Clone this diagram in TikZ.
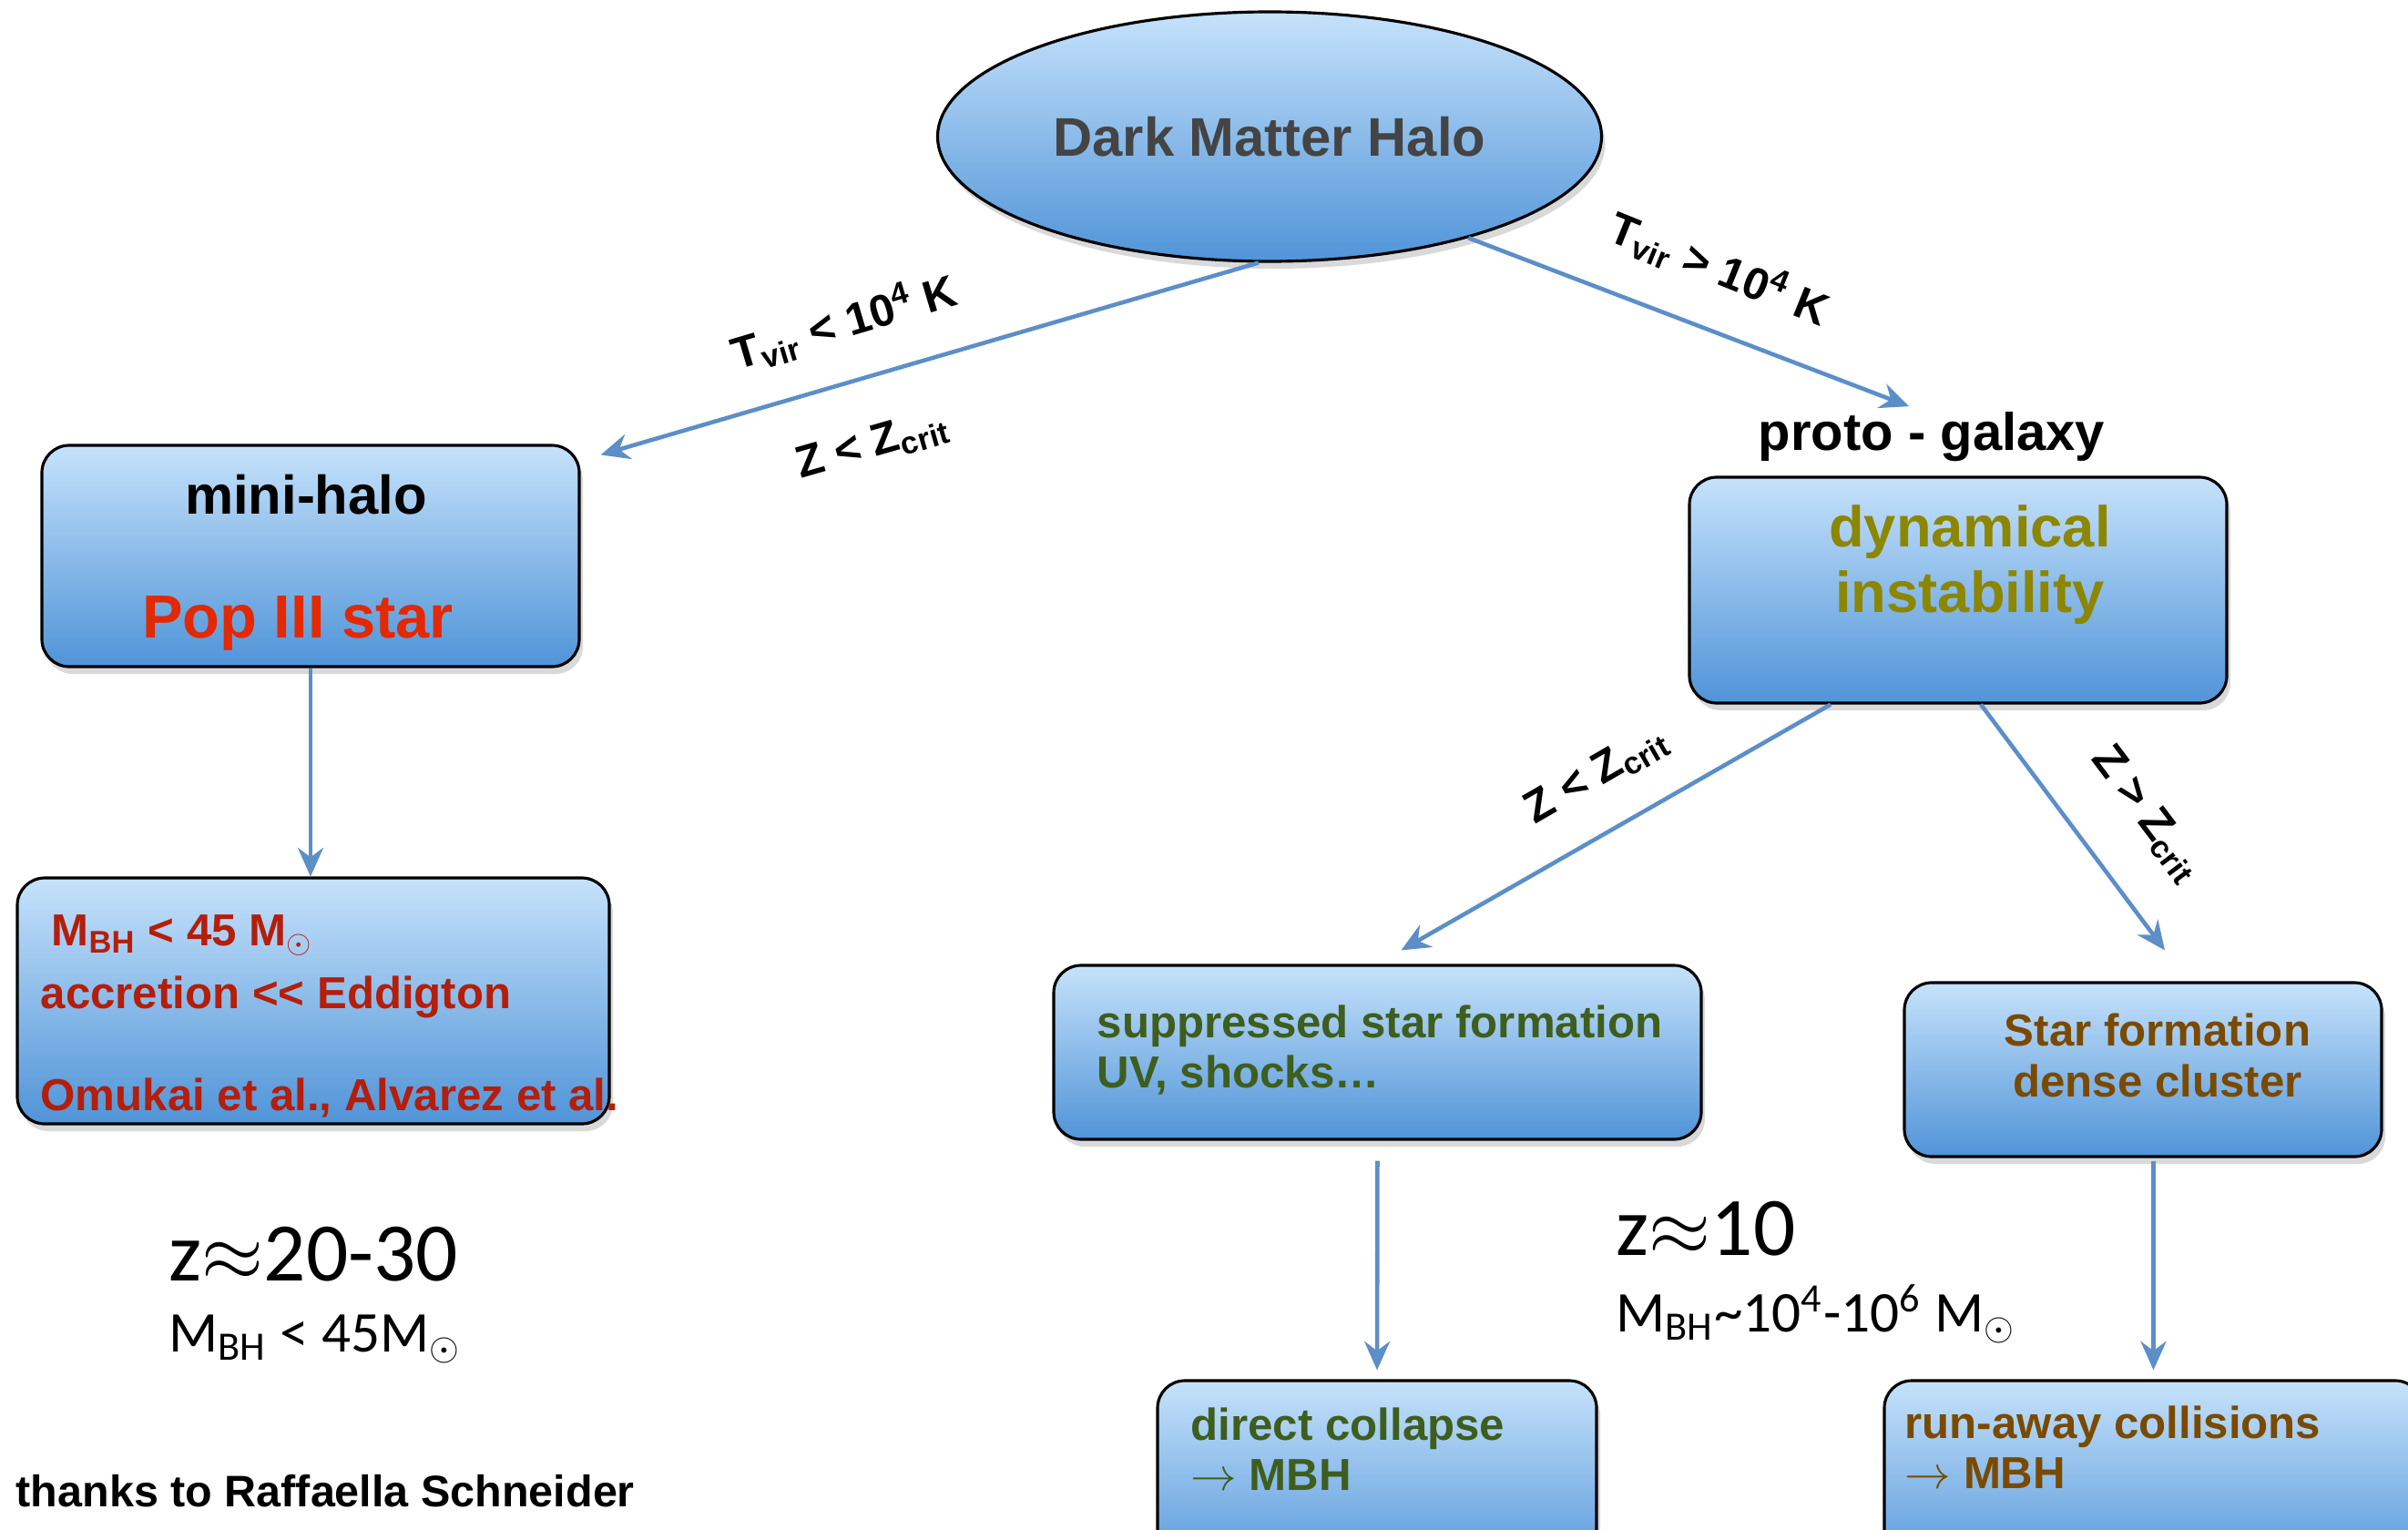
\documentclass[tikz,border=0pt]{standalone}
\usepackage{fontspec}
\setmainfont{Liberation Sans}
\newfontfamily\gillfont{Carlito}
\usepackage{tikz}
\usetikzlibrary{positioning,shapes.geometric,shadows,arrows.meta}
\definecolor{arrowblue}{RGB}{92,142,200}
\definecolor{boxtop}{RGB}{198,226,251}
\definecolor{boxbot}{RGB}{80,148,216}
\definecolor{popred}{RGB}{228,40,0}
\definecolor{bhred}{RGB}{180,30,10}
\definecolor{dynolive}{RGB}{140,134,0}
\definecolor{sfgreen}{RGB}{62,94,30}
\definecolor{sfbrown}{RGB}{122,74,0}
\definecolor{halogray}{RGB}{68,68,68}

\begin{document}
\begin{tikzpicture}[box/.style={draw,line width=0.9pt,rounded corners=0.3cm,
                        top color=boxtop,bottom color=boxbot,inner sep=0pt,
                        drop shadow={shadow xshift=0.04cm,shadow yshift=-0.08cm,opacity=0.3}},
                cloud/.style={ellipse,draw,line width=0.9pt,top color=boxtop,bottom color=boxbot,
                        inner sep=0pt,drop shadow={shadow xshift=0.04cm,shadow yshift=-0.08cm,opacity=0.3}},
                conn/.style={draw=arrowblue,line width=1.3pt,-{Stealth[length=9pt,width=8pt,inset=3pt]}},
                txt/.style={inner sep=0pt,font=\bfseries\fontsize{14}{15.8}\selectfont},
                cond/.style={inner sep=0pt,font=\bfseries\fontsize{14}{16}\selectfont},
                redshift/.style={inner sep=0pt,anchor=west,font=\gillfont\fontsize{26}{30}\selectfont},
                mass/.style={inner sep=0pt,anchor=west,font=\gillfont\fontsize{18}{21}\selectfont}]
            \useasboundingbox (0,0) rectangle (26.44,-16.80);
            \node[cloud,minimum width=7.29cm,minimum height=2.74cm,text=halogray,
                font=\bfseries\fontsize{17}{20}\selectfont] (halo) at (13.94,-1.50) {Dark Matter Halo};
            %
            \node[box,minimum width=5.90cm,minimum height=2.43cm] (mini) at (3.41,-6.105) {};
            \node[txt,font=\bfseries\fontsize{17}{20}\selectfont] (minititle) at (3.36,-5.43) {mini-halo};
            \node[txt,text=popred,font=\bfseries\fontsize{19}{22}\selectfont] (pop3) at (3.27,-6.84) {Pop III star};
            \node[box,minimum width=6.50cm,minimum height=2.70cm] (mbh) at (3.44,-10.99) {};
            \node[txt,text=bhred,anchor=west] (mbh1) at (0.56,-10.27) {M\textsubscript{BH} < 45 M\textsubscript{$\odot$}};
            \node[txt,text=bhred,anchor=west] (mbh2) at (0.44,-10.95) {accretion <{}< Eddigton};
            \node[txt,text=bhred,anchor=west] (mbh3) at (0.44,-12.05) {Omukai et al., Alvarez et al.};
            \node[redshift] (zleft) at (1.85,-13.77) {z$\approx$20-30};
            \node[mass] (mleft) at (1.85,-14.70) {M\textsubscript{BH} < 45M\textsubscript{$\odot$}};
            \node[txt,anchor=west,font=\bfseries\fontsize{13.8}{16}\selectfont] (thanks) at (0.17,-16.37) {thanks to Raffaella Schneider};
            %
            \node[txt,font=\bfseries\fontsize{16.5}{19}\selectfont] (proto) at (21.21,-4.80) {proto - galaxy};
            \node[box,minimum width=5.90cm,minimum height=2.48cm] (dyn) at (21.50,-6.48) {};
            \node[txt,text=dynolive,align=center,font=\bfseries\fontsize{18}{20.5}\selectfont] (dyntext) at (21.63,-6.20) {dynamical\\instability};
            \node[box,minimum width=7.11cm,minimum height=1.91cm] (supp) at (15.125,-11.555) {};
            \node[txt,text=sfgreen,anchor=west,align=left] (supptext) at (12.04,-11.53) {suppressed star formation\\UV, shocks…};
            \node[box,minimum width=5.24cm,minimum height=1.91cm] (starf) at (23.53,-11.745) {};
            \node[txt,text=sfbrown,align=center] (starftext) at (23.69,-11.59) {Star formation\\dense cluster};
            \node[box,minimum width=4.82cm,minimum height=2.20cm] (direct) at (15.12,-16.26) {};
            \node[txt,text=sfgreen,anchor=west,align=left] (directtext) at (13.07,-15.91) {direct collapse\\$\rightarrow$ MBH};
            \node[box,minimum width=5.91cm,minimum height=2.20cm] (runaway) at (23.645,-16.26) {};
            \node[txt,text=sfbrown,anchor=west,align=left] (runawaytext) at (20.91,-15.89) {run-away collisions\\$\rightarrow$ MBH};
            \node[redshift] (zright) at (17.74,-13.49) {z$\approx$10};
            \node[mass] (mright) at (17.74,-14.43) {M\textsubscript{BH}\textasciitilde10\textsuperscript{4}-10\textsuperscript{6} M\textsubscript{$\odot$}};
            %
            \node[cond,rotate=16.6] (tlow) at (9.27,-3.54) {T\textsubscript{vir} < 10\textsuperscript{4} K};
            \node[cond,rotate=16] (zlow) at (9.58,-4.89) {Z < Z\textsubscript{crit}};
            \node[cond,rotate=-22] (thigh) at (18.88,-2.95) {T\textsubscript{vir} > 10\textsuperscript{4} K};
            \node[cond,rotate=30] (zlow2) at (17.53,-8.51) {Z < Z\textsubscript{crit}};
            \node[cond,rotate=-53] (zhigh) at (23.57,-8.94) {Z > Z\textsubscript{crit}};
            %
            \coordinate (mini-in) at ([xshift=0.22cm,yshift=-0.12cm]mini.north east);
            \coordinate (proto-in) at ([xshift=-0.25cm,yshift=0.06cm]proto.north);
            \coordinate (dyn-l) at ([xshift=-1.40cm]dyn.south);
            \coordinate (dyn-r) at ([xshift=0.25cm]dyn.south);
            \coordinate (supp-in) at ([xshift=0.26cm,yshift=0.15cm]supp.north);
            \coordinate (starf-in) at ([xshift=0.24cm,yshift=0.34cm]starf.north);
            \draw[conn] (halo.265) -- (mini-in);
            \draw[conn] (halo.-27) -- (proto-in);
            \draw[conn] (mini.south) -- (mini.south |- mbh.north);
            \draw[conn] (dyn-l) -- (supp-in);
            \draw[conn] (dyn-r) -- (starf-in);
            \draw[conn,shorten <=0.22cm,shorten >=0.10cm] (supp.south) -- (direct.north);
            \draw[conn,shorten <=0.03cm,shorten >=0.10cm] (starf.south -| runaway.north) -- (runaway.north);
        \end{tikzpicture}
\end{document}
